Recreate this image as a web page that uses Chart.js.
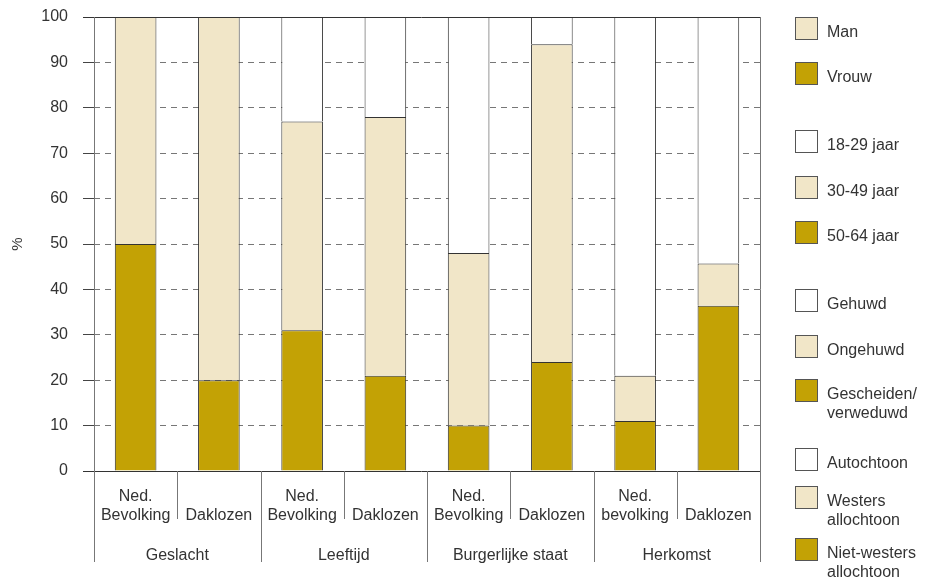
<!DOCTYPE html>
<html>
<head>
<meta charset="utf-8">
<script src="https://cdn.jsdelivr.net/npm/chart.js@4"></script>
<style>
    html, body { margin: 0; padding: 0; background: #fff; }
    #wrap { width: 925px; height: 580px; position: relative; }
</style>
</head>
<body>
<div id="wrap"><canvas id="chart" width="925" height="580"></canvas></div>
<script>
// categorieen (staven) en groepen
var labels = [['Ned.', 'Bevolking'], ['', 'Daklozen'], ['Ned.', 'Bevolking'], ['', 'Daklozen'],
              ['Ned.', 'Bevolking'], ['', 'Daklozen'], ['Ned.', 'bevolking'], ['', 'Daklozen']];
var groepen = ['Geslacht', 'Leeftijd', 'Burgerlijke staat', 'Herkomst'];

// waarden per laag (onder -> boven), in %
var donker = [50, 20, 31, 21, 10, 24, 11, 36.4];
var licht  = [50, 80, 46, 57, 38, 70, 10, 9.3];
var wit    = [0, 0, 23, 22, 52, 6, 79, 54.3];

var yTicks = [0, 10, 20, 30, 40, 50, 60, 70, 80, 90, 100];

// legenda
var legendaTekst = [['Man'], ['Vrouw'], ['18-29 jaar'], ['30-49 jaar'], ['50-64 jaar'],
                    ['Gehuwd'], ['Ongehuwd'], ['Gescheiden/', 'verweduwd'],
                    ['Autochtoon'], ['Westers', 'allochtoon'], ['Niet-westers', 'allochtoon']];
var legendaKleur = ['licht', 'donker', 'wit', 'licht', 'donker', 'wit', 'licht', 'donker', 'wit', 'licht', 'donker'];

var kleuren = { donker: '#C3A205', licht: '#F1E6C8', wit: '#FFFFFF' };
var FONT = '"Liberation Sans", Arial, sans-serif';
var TEKST = '#333333';

var extraPlugin = {
    id: 'extra',
    afterDatasetsDraw: function(chart) {
        var ctx = chart.ctx;
        var a = chart.chartArea;
        var x = chart.scales.x;
        ctx.save();

        // lijnen bij 0 en 100
        ctx.strokeStyle = '#333';
        ctx.lineWidth = 1;
        ctx.beginPath();
        ctx.moveTo(a.left - 11, Math.round(a.top) + 0.5);
        ctx.lineTo(a.right, Math.round(a.top) + 0.5);
        ctx.moveTo(a.left - 11, Math.round(a.bottom) + 0.5);
        ctx.lineTo(a.right, Math.round(a.bottom) + 0.5);
        ctx.stroke();

        // verticale lijnen links, rechts en scheidingen onder de as
        var breedte = (a.right - a.left) / labels.length;
        ctx.strokeStyle = '#777';
        ctx.beginPath();
        for (var i = 0; i <= labels.length; i++) {
            var px = Math.round(a.left + i * breedte) + 0.5;
            if (i == 0 || i == labels.length) {
                ctx.moveTo(px, a.top);
                ctx.lineTo(px, 562);
            } else if (i % 2 == 0) {
                ctx.moveTo(px, a.bottom);
                ctx.lineTo(px, 562);
            } else {
                ctx.moveTo(px, a.bottom);
                ctx.lineTo(px, 519);
            }
        }
        ctx.stroke();

        // groepnamen
        ctx.fillStyle = TEKST;
        ctx.font = '16px ' + FONT;
        ctx.textAlign = 'center';
        ctx.textBaseline = 'middle';
        groepen.forEach(function(g, j) {
            var cx = (x.getPixelForValue(j * 2) + x.getPixelForValue(j * 2 + 1)) / 2;
            ctx.fillText(g, cx, 556);
        });

        // legenda
        var tops = [17, 62, 130, 176, 221, 289, 335, 379, 448, 486, 538];
        ctx.textAlign = 'left';
        legendaTekst.forEach(function(t, k) {
            ctx.fillStyle = kleuren[legendaKleur[k]];
            ctx.fillRect(795, tops[k], 23, 23);
            ctx.strokeStyle = '#555';
            ctx.strokeRect(795.5, tops[k] + 0.5, 22, 22);
            ctx.fillStyle = TEKST;
            t.forEach(function(regel, r) {
                ctx.fillText(regel, 827, tops[k] + 16 + r * 19);
            });
        });
        ctx.restore();
    }
};

function maakDataset(naam, waarden, kleur) {
    return {
        label: naam,
        data: waarden,
        backgroundColor: kleur,
        borderColor: '#333',
        borderWidth: 1,
        barPercentage: 0.5,
        categoryPercentage: 1.0
    };
}

var ctx = document.getElementById('chart').getContext('2d');
var myChart = new Chart(ctx, {
    type: 'bar',
    data: {
        labels: labels,
        datasets: [
            maakDataset('donker', donker, kleuren.donker),
            maakDataset('licht', licht, kleuren.licht),
            maakDataset('wit', wit, kleuren.wit)
        ]
    },
    options: {
        responsive: false,
        animation: false,
        devicePixelRatio: 1,
        layout: { padding: { top: 17, right: 165, left: 0, bottom: 0 } },
        plugins: { legend: { display: false }, tooltip: { enabled: false } },
        scales: {
            x: {
                stacked: true,
                grid: { display: false },
                border: { display: false },
                ticks: { color: TEKST, font: { family: FONT, size: 16 }, padding: 8, maxRotation: 0, autoSkip: false },
                afterFit: function(s) { s.height = 580 - 471; s.paddingLeft = 0; s.paddingRight = 0; }
            },
            y: {
                stacked: true,
                min: 0,
                max: 100,
                afterBuildTicks: function(s) { s.ticks = yTicks.map(function(v) { return { value: v }; }); },
                grid: { color: '#777', lineWidth: 1, tickLength: 11, tickColor: '#444', tickBorderDash: [] },
                border: { display: false, dash: [6, 5] },
                ticks: { color: TEKST, font: { family: FONT, size: 16 }, padding: 15 },
                title: { display: true, text: '%', color: TEKST, font: { family: FONT, size: 15 }, padding: { top: 9, bottom: 0 } },
                afterFit: function(s) { s.width = 94; s.paddingTop = 0; s.paddingBottom = 0; }
            }
        }
    },
    plugins: [extraPlugin]
});
</script>
</body>
</html>
